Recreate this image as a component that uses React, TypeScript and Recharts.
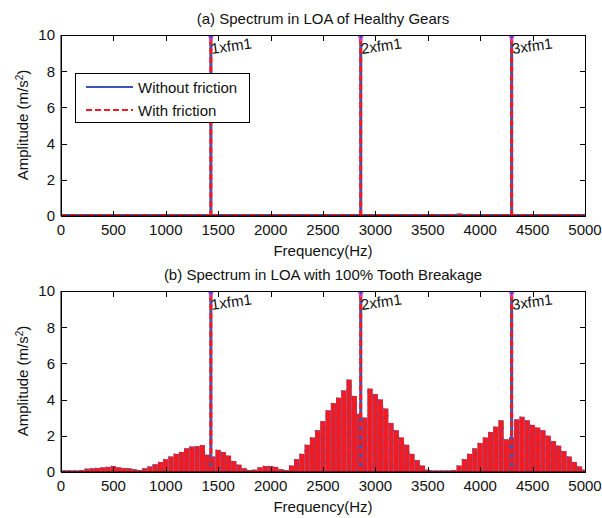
import { ComposedChart, Bar, Line, XAxis, YAxis } from "recharts";

// amplitude per 50 Hz bin, 0..5000 Hz (m/s^2)
const binHz = 50;

const topAmp = [
  0.05, 0.05, 0.05, 0.05, 0.05, 0.05, 0.05, 0.05, 0.05, 0.05,
  0.05, 0.05, 0.05, 0.05, 0.05, 0.05, 0.05, 0.05, 0.05, 0.05,
  0.05, 0.05, 0.05, 0.05, 0.05, 0.05, 0.05, 0.05, 0.05, 0.05,
  0.05, 0.05, 0.05, 0.05, 0.05, 0.05, 0.05, 0.05, 0.05, 0.05,
  0.05, 0.05, 0.05, 0.05, 0.05, 0.05, 0.05, 0.05, 0.05, 0.05,
  0.05, 0.05, 0.05, 0.05, 0.05, 0.05, 0.05, 0.05, 0.05, 0.05,
  0.05, 0.05, 0.05, 0.05, 0.05, 0.05, 0.05, 0.05, 0.05, 0.05,
  0.05, 0.05, 0.05, 0.05, 0.05, 0.05, 0.08, 0.05, 0.05, 0.05,
  0.05, 0.05, 0.05, 0.05, 0.05, 0.05, 0.05, 0.05, 0.05, 0.05,
  0.05, 0.05, 0.05, 0.05, 0.05, 0.05, 0.05, 0.05, 0.05, 0.05,
  0.05,
];

const bottomAmp = [
  0.08, 0.08, 0.08, 0.08, 0.1, 0.18, 0.2, 0.22, 0.25, 0.28,
  0.33, 0.25, 0.22, 0.2, 0.15, 0.1, 0.2, 0.3, 0.42, 0.55,
  0.7, 0.85, 1.0, 1.1, 1.3, 1.4, 1.42, 1.48, 0.95, 0.85,
  1.22, 1.1, 0.9, 0.6, 0.4, 0.2, 0.1, 0.12, 0.25, 0.33,
  0.32, 0.28, 0.15, 0.1, 0.35, 0.7, 1.0, 1.5, 1.9, 2.3,
  2.8, 3.4, 3.8, 4.1, 4.5, 5.1, 4.2, 3.2, 3.0, 4.6,
  4.3, 4.0, 3.5, 2.7, 2.3, 1.9, 1.5, 1.0, 0.65, 0.35,
  0.12, 0.08, 0.08, 0.08, 0.08, 0.1, 0.35, 0.7, 1.0, 1.3,
  1.6, 1.9, 2.2, 2.5, 2.85, 1.8, 1.9, 2.9, 3.05, 2.85,
  2.6, 2.45, 2.3, 2.0, 1.7, 1.45, 1.15, 0.85, 0.55, 0.3,
  0.12,
];

// mesh frequency harmonics (peaks run off the top of the axes)
const harmonicHz = [1430, 2860, 4300];
const harmonicPeak = [12, 12, 12];
const harmonicLabels = ["1xfm1", "2xfm1", "3xfm1"];

const freqTicks = [0, 500, 1000, 1500, 2000, 2500, 3000, 3500, 4000, 4500, 5000];
const ampTicks = [0, 2, 4, 6, 8, 10];

const BLUE = "#3a56b4";
const RED = "#ee1d25";
const MAGENTA = "#d23cc8";
const FONT = "'Liberation Sans', Arial, sans-serif";

// plot box inside each 602x259 panel
const PLOT = { left: 61, top: 35, width: 524, height: 181 };

function HarmonicTip(props: any) {
  const { cx, cy, payload } = props;
  if (cx == null || cy == null) return null;
  const tx = cx + 1;
  const ty = cy + 19;
  return (
    <g>
      <path
        d={`M${cx - 3.5},${cy - 2} L${cx},${cy + 6} L${cx + 3.5},${cy - 2}`}
        stroke={MAGENTA}
        strokeWidth={1.3}
        fill="none"
      />
      <text x={tx} y={ty} fontSize={15} fill="#111" fontFamily={FONT} transform={`rotate(-8 ${tx} ${ty})`}>
        {payload.label}
      </text>
    </g>
  );
}

// MATLAB-style box with inward ticks on all four sides
function BoxFrame({ top }: { top: number }) {
  const { width, height } = PLOT;
  const t = 5;
  return (
    <div
      style={{
        position: "absolute",
        left: PLOT.left,
        top: top + PLOT.top,
        width: width + 1,
        height: height + 1,
        border: "1px solid #000",
        boxSizing: "border-box",
        pointerEvents: "none",
        zIndex: 5,
      }}
    >
      {freqTicks.map((f) => {
        const x = Math.round((f / 5000) * width) - 1;
        return (
          <div key={f}>
            <div style={{ position: "absolute", left: x, top: 0, width: 1, height: t, background: "#000" }} />
            <div style={{ position: "absolute", left: x, bottom: 0, width: 1, height: t, background: "#000" }} />
          </div>
        );
      })}
      {ampTicks.map((a) => {
        const y = Math.round(height - (a / 10) * height) - 1;
        return (
          <div key={a}>
            <div style={{ position: "absolute", left: 0, top: y, width: t, height: 1, background: "#000" }} />
            <div style={{ position: "absolute", right: 0, top: y, width: t, height: 1, background: "#000" }} />
          </div>
        );
      })}
    </div>
  );
}

function Panel({ amp, filled }: { amp: number[]; filled: boolean }) {
  const rows = amp.map((a, i) => ({ f: i * binHz, without: a, with: a }));
  const stems = harmonicHz.map((f, i) => [
    { f, a: 0 },
    { f, a: harmonicPeak[i] },
  ]);
  const tips = harmonicHz.map((f, i) => ({ f, a: 10, label: harmonicLabels[i] }));

  const xCommon = {
    dataKey: "f",
    type: "number" as const,
    domain: [0, 5000],
    ticks: freqTicks,
    allowDataOverflow: true,
    stroke: "#000",
  };

  return (
    <ComposedChart
      width={602}
      height={259}
      data={rows}
      barGap={-5}
      margin={{ top: PLOT.top, right: 602 - PLOT.left - PLOT.width, bottom: 0, left: 0 }}
      style={{ fontFamily: FONT }}
    >
      <XAxis
        xAxisId="f"
        {...xCommon}
        height={259 - PLOT.top - PLOT.height}
        tickLine={false}
        tickSize={0}
        tickMargin={8}
        tick={{ fill: "#111", fontSize: 15 }}
      />
      <XAxis xAxisId="s" {...xCommon} hide />
      <YAxis
        yAxisId="a"
        type="number"
        domain={[0, 10]}
        ticks={ampTicks}
        allowDataOverflow
        stroke="#000"
        width={PLOT.left}
        tickLine={false}
        tickSize={0}
        tickMargin={6}
        tick={{ fill: "#111", fontSize: 15 }}
      />

      {filled ? (
        <Bar xAxisId="f" yAxisId="a" dataKey="without" fill={BLUE} barSize={5} isAnimationActive={false} />
      ) : (
        <Line xAxisId="f" yAxisId="a" dataKey="without" stroke={BLUE} strokeWidth={2} dot={false} isAnimationActive={false} />
      )}
      {filled ? (
        <Bar
          xAxisId="f"
          yAxisId="a"
          dataKey="with"
          fill={RED}
          stroke={BLUE}
          strokeWidth={0.7}
          strokeDasharray="1.5 10"
          barSize={5}
          isAnimationActive={false}
        />
      ) : (
        <Line
          xAxisId="f"
          yAxisId="a"
          dataKey="with"
          stroke={RED}
          strokeWidth={2}
          strokeDasharray="6 3"
          dot={false}
          isAnimationActive={false}
        />
      )}

      {stems.map((s, i) => (
        <Line
          key={`b${i}`}
          data={s}
          xAxisId="s"
          yAxisId="a"
          dataKey="a"
          stroke={BLUE}
          strokeWidth={3}
          dot={false}
          isAnimationActive={false}
        />
      ))}
      {stems.map((s, i) => (
        <Line
          key={`r${i}`}
          data={s}
          xAxisId="s"
          yAxisId="a"
          dataKey="a"
          stroke={RED}
          strokeWidth={3}
          strokeDasharray="6 3"
          dot={false}
          isAnimationActive={false}
        />
      ))}
      <Line
        data={tips}
        xAxisId="s"
        yAxisId="a"
        dataKey="a"
        stroke="none"
        dot={<HarmonicTip />}
        isAnimationActive={false}
      />
    </ComposedChart>
  );
}

const textStyle = { position: "absolute" as const, fontFamily: FONT, fontSize: 15, color: "#111", whiteSpace: "nowrap" as const };

function AxisTexts({ top, title }: { top: number; title: string }) {
  return (
    <>
      <div style={{ ...textStyle, left: 61, width: 524, top: top + 10, textAlign: "center", lineHeight: "17px" }}>{title}</div>
      <div style={{ ...textStyle, left: 61, width: 524, top: top + 242, textAlign: "center", lineHeight: "17px" }}>
        Frequency(Hz)
      </div>
      <div
        style={{
          ...textStyle,
          left: 22,
          top: top + 125,
          lineHeight: "17px",
          transform: "translate(-50%, -50%) rotate(-90deg)",
        }}
      >
        Amplitude (m/s<sup style={{ fontSize: 10, verticalAlign: "5px", lineHeight: 0 }}>2</sup>)
      </div>
    </>
  );
}

function LegendBox() {
  const row = (dash: string | undefined, color: string, label: string, y: number) => (
    <div style={{ position: "absolute", left: 0, top: y, height: 18, display: "flex", alignItems: "center" }}>
      <svg width={62} height={18}>
        <line x1={10} y1={9} x2={57} y2={9} stroke={color} strokeWidth={2} strokeDasharray={dash} />
      </svg>
      <span style={{ fontFamily: FONT, fontSize: 15, color: "#111" }}>{label}</span>
    </div>
  );
  return (
    <div
      style={{
        position: "absolute",
        left: 75,
        top: 73,
        width: 175,
        height: 50,
        border: "1px solid #000",
        background: "#fff",
        boxSizing: "border-box",
        zIndex: 6,
      }}
    >
      {row(undefined, BLUE, "Without friction", 4)}
      {row("6 3", RED, "With friction", 27)}
    </div>
  );
}

export default function App() {
  return (
    <div style={{ position: "absolute", left: 0, top: 0, width: 602, height: 518, background: "#fff", overflow: "hidden" }}>
      <div style={{ position: "absolute", left: 0, top: 0 }}>
        <Panel amp={topAmp} filled={false} />
      </div>
      <div style={{ position: "absolute", left: 0, top: 256 }}>
        <Panel amp={bottomAmp} filled={true} />
      </div>
      <BoxFrame top={0} />
      <BoxFrame top={256} />
      <AxisTexts top={0} title="(a) Spectrum in LOA of Healthy Gears" />
      <AxisTexts top={256} title="(b) Spectrum in LOA with 100% Tooth Breakage" />
      <LegendBox />
    </div>
  );
}
